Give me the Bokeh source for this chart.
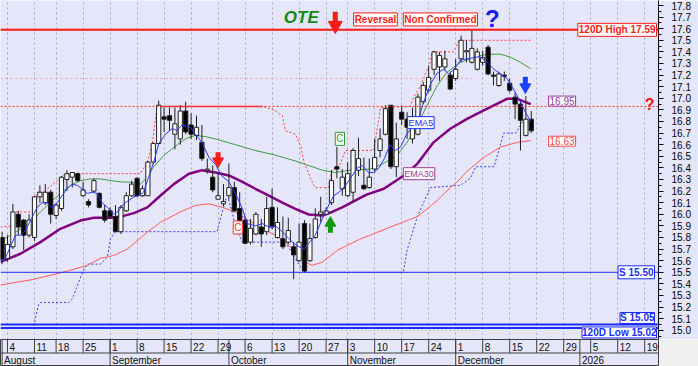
from bokeh.plotting import figure
from bokeh.models import (Range1d, LinearAxis, SingleIntervalTicker, PrintfTickFormatter, FixedTicker,
                          Grid, Label, ColumnDataSource, Span)
from bokeh.layouts import column
from bokeh.embed import file_html
from bokeh.resources import INLINE
from bokeh.core.properties import value

# ---------------- data (x = trading-day index, 0 = Mon 4 Aug 2025) ----------------
day_idx = list(range(-1, 98))
opens = [15.80, 15.62, 15.72, 16.00, 15.95, 15.82, 15.80, 16.15, 16.10, 16.19,
         15.99, 16.05, 16.30, 16.32, 16.35, 16.16, 16.11, 16.20, 16.18, 16.03,
         16.03, 15.98, 15.85, 16.03, 16.16, 16.31, 16.16, 16.16, 16.45, 16.61,
         16.84, 16.85, 16.69, 16.65, 16.89, 16.77, 16.68, 16.62, 16.38, 16.32,
         16.13, 16.09, 16.16, 16.23, 16.05, 15.95, 15.76, 15.83, 15.89, 15.85,
         16.06, 15.80, 15.79, 15.76, 15.72, 15.60, 15.92, 15.60, 15.80, 16.00,
         16.00, 16.10, 16.41, 16.22, 16.16, 16.19, 16.38, 16.25, 16.23, 16.39,
         16.55, 16.69, 16.94, 16.41, 16.88, 16.82, 16.65, 16.69, 16.97, 17.07,
         17.25, 17.27, 17.27, 17.20, 17.17, 17.34, 17.40, 17.31, 17.25, 17.31,
         17.44, 17.20, 17.11, 17.20, 17.13, 17.01, 16.95, 16.68, 16.82]
highs = [15.85, 15.82, 16.09, 16.03, 15.96, 16.00, 16.16, 16.25, 16.26, 16.21,
         16.10, 16.33, 16.38, 16.36, 16.36, 16.28, 16.13, 16.31, 16.19, 16.08,
         16.06, 16.08, 16.08, 16.19, 16.29, 16.32, 16.25, 16.46, 16.62, 16.98,
         16.92, 16.92, 16.92, 16.94, 16.97, 16.87, 16.85, 16.77, 16.48, 16.42,
         16.36, 16.26, 16.44, 16.28, 16.19, 15.98, 15.96, 16.02, 15.96, 16.15,
         16.22, 16.06, 15.98, 15.97, 15.76, 15.92, 15.95, 15.92, 16.05, 16.15,
         16.06, 16.38, 16.58, 16.39, 16.45, 16.57, 16.66, 16.49, 16.48, 16.65,
         16.74, 16.94, 16.94, 16.79, 16.94, 16.88, 16.92, 17.04, 17.14, 17.28,
         17.41, 17.40, 17.41, 17.23, 17.34, 17.54, 17.50, 17.59, 17.43, 17.41,
         17.46, 17.23, 17.23, 17.23, 17.17, 17.05, 16.98, 17.02, 16.89]
lows = [15.57, 15.59, 15.70, 15.82, 15.69, 15.80, 15.77, 16.10, 16.08, 15.92,
        15.96, 16.03, 16.20, 16.23, 16.28, 16.15, 16.06, 16.19, 16.05, 15.93,
        15.96, 15.85, 15.83, 16.02, 16.15, 16.15, 16.15, 16.16, 16.43, 16.61,
        16.71, 16.72, 16.56, 16.60, 16.69, 16.65, 16.64, 16.46, 16.35, 16.19,
        16.13, 16.07, 16.13, 16.02, 15.86, 15.75, 15.74, 15.82, 15.72, 15.82,
        15.87, 15.79, 15.70, 15.74, 15.44, 15.59, 15.50, 15.59, 15.79, 15.93,
        15.99, 16.08, 16.31, 16.16, 16.15, 16.11, 16.33, 16.21, 16.22, 16.36,
        16.49, 16.68, 16.39, 16.32, 16.77, 16.65, 16.61, 16.68, 16.95, 17.05,
        17.20, 17.15, 17.24, 17.07, 17.15, 17.31, 17.31, 17.30, 17.24, 17.28,
        17.20, 17.11, 17.10, 17.15, 17.05, 16.82, 16.55, 16.67, 16.70]
closes = [15.61, 15.74, 16.02, 15.89, 15.82, 15.95, 16.15, 16.19, 16.19, 16.00,
          16.08, 16.32, 16.35, 16.36, 16.29, 16.21, 16.08, 16.29, 16.06, 15.95,
          15.98, 15.85, 16.06, 16.16, 16.26, 16.16, 16.22, 16.45, 16.61, 16.94,
          16.82, 16.81, 16.78, 16.89, 16.71, 16.69, 16.75, 16.48, 16.39, 16.21,
          16.16, 16.11, 16.23, 16.03, 15.88, 15.75, 15.88, 16.00, 15.83, 16.05,
          15.89, 15.93, 15.72, 15.86, 15.65, 15.76, 15.51, 15.79, 15.96, 16.02,
          16.03, 16.29, 16.39, 16.32, 16.35, 16.55, 16.48, 16.22, 16.32, 16.49,
          16.65, 16.91, 16.41, 16.65, 16.82, 16.75, 16.77, 17.01, 17.11, 17.18,
          17.40, 17.37, 17.34, 17.08, 17.25, 17.50, 17.41, 17.43, 17.40, 17.35,
          17.21, 17.19, 17.21, 17.19, 17.07, 16.95, 16.81, 16.82, 16.72]

ema5_x = [-1.3, -0.4, 0.6, 1.5, 2.4, 3.3, 4.3, 5.5, 6.4, 7.3, 8.3, 9.2, 10.1, 11.0, 12.0, 12.9,
          13.8, 14.8, 15.7, 16.6, 17.5, 18.5, 19.7, 20.6, 21.5, 22.5, 23.4, 24.3, 25.2, 26.2,
          27.1, 28.0, 29.3, 30.5, 31.4, 32.3, 33.9, 34.8, 36.0, 37.3, 38.5, 39.7, 41.0, 42.2,
          43.5, 44.4, 45.9, 47.2, 48.4, 49.6, 50.9, 52.1, 53.0, 54.0, 54.9, 55.8, 57.0, 58.3,
          59.5, 60.4, 61.4, 62.6, 63.8, 64.8, 65.8, 66.8, 67.8, 68.8, 69.8, 70.8, 71.8, 72.8,
          73.8, 74.9, 75.9, 77.1, 78.3, 79.6, 80.8, 81.7, 82.7, 83.9, 85.1, 86.3, 87.5, 88.8,
          90.1, 91.3, 92.5, 93.8, 95.0, 95.9, 96.9]
ema5_y = [15.59, 15.62, 15.73, 15.82, 15.82, 15.86, 15.95, 16.06, 16.10, 16.10, 16.05, 16.10,
          16.16, 16.22, 16.26, 16.25, 16.22, 16.18, 16.19, 16.18, 16.10, 16.06, 16.00, 16.03,
          16.09, 16.12, 16.15, 16.16, 16.19, 16.33, 16.45, 16.61, 16.69, 16.74, 16.72, 16.77,
          16.75, 16.69, 16.62, 16.49, 16.43, 16.33, 16.28, 16.18, 16.05, 15.92, 15.90, 15.92,
          15.89, 15.90, 15.85, 15.79, 15.75, 15.72, 15.70, 15.75, 15.82, 15.96, 16.08, 16.16,
          16.19, 16.25, 16.33, 16.40, 16.42, 16.36, 16.36, 16.40, 16.48, 16.60, 16.55, 16.58,
          16.68, 16.75, 16.79, 16.97, 17.12, 17.22, 17.25, 17.21, 17.25, 17.33, 17.34, 17.35,
          17.36, 17.31, 17.25, 17.21, 17.17, 17.07, 16.97, 16.88, 16.80]

ema20_x = [-1.3, 0.6, 2.4, 4.3, 6.1, 8.0, 9.8, 11.7, 13.5, 15.4, 17.2, 19.1, 20.9, 22.8, 24.6,
           25.9, 27.1, 29.0, 30.5, 32.0, 33.4, 34.8, 36.6, 38.5, 42.2, 45.9, 49.6, 53.3, 55.8,
           58.3, 60.7, 63.5, 67.2, 69.7, 72.2, 74.0, 75.9, 77.7, 79.6, 81.4, 83.9, 86.4, 88.8,
           91.3, 93.1, 95.0, 96.9]
ema20_y = [15.77, 15.82, 15.875, 15.93, 16.02, 16.105, 16.18, 16.25, 16.29, 16.305, 16.305,
           16.29, 16.28, 16.277, 16.26, 16.32, 16.41, 16.51, 16.564, 16.62, 16.66, 16.68, 16.67,
           16.65, 16.60, 16.55, 16.51, 16.46, 16.42, 16.38, 16.36, 16.38, 16.39, 16.44, 16.51,
           16.62, 16.77, 16.94, 17.11, 17.225, 17.31, 17.355, 17.38, 17.38, 17.355, 17.31, 17.255]

ema30_x = [-1.3, 2.4, 6.1, 9.8, 13.5, 16.0, 19.1, 21.0, 23.4, 25.9, 28.3, 30.8, 33.6, 36.0, 38.5,
           41.0, 43.5, 45.9, 48.4, 50.9, 53.3, 55.8, 58.3, 60.1, 62.0, 64.0, 66.5, 69.7, 73.4,
           75.9, 78.9, 82.0, 85.1, 88.2, 91.3, 92.5, 94.4, 96.9]
ema30_y = [15.59, 15.66, 15.76, 15.875, 15.946, 15.97, 15.97, 15.98, 16.01, 16.06, 16.16, 16.26,
           16.35, 16.38, 16.36, 16.335, 16.28, 16.22, 16.16, 16.10, 16.047, 15.998, 15.99, 16.02,
           16.06, 16.11, 16.17, 16.22, 16.335, 16.435, 16.62, 16.737, 16.823, 16.895, 16.966,
           16.995, 16.995, 16.95]

ema100_x = [-1.3, 4.9, 11.1, 14.8, 17.2, 19.7, 22.2, 25.9, 28.3, 32.0, 34.8, 37.3, 39.8, 42.2,
            44.7, 47.2, 49.6, 51.5, 53.3, 55.2, 56.4, 58.3, 61.1, 65.0, 70.9, 75.9, 78.3, 79.6,
            82.0, 83.3, 85.1, 88.2, 91.3, 94.4, 96.9]
ema100_y = [15.39, 15.44, 15.51, 15.56, 15.62, 15.645, 15.70, 15.846, 15.93, 16.02, 16.076,
            16.09, 16.06, 16.02, 15.947, 15.875, 15.82, 15.76, 15.673, 15.587, 15.56, 15.587,
            15.69, 15.78, 15.89, 15.98, 16.07, 16.12, 16.23, 16.28, 16.37, 16.49, 16.58, 16.62,
            16.636]

chan_hi_x = [-1.3, 0.9, 1.2, 4.6, 5.5, 6.7, 9.2, 10.7, 24.6, 25.9, 26.8, 27.7, 47.2, 49.3, 50.9,
             51.5, 53.3, 54.3, 54.9, 56.4, 57.0, 59.4, 60.1, 61.4, 62.6, 67.8, 69.1, 74.6, 75.2,
             76.5, 78.3, 78.6, 82.6, 83.6, 96.9]
chan_hi_y = [15.89, 15.90, 16.02, 16.02, 16.19, 16.19, 16.29, 16.35, 16.35, 16.45, 16.60, 16.93,
             16.93, 16.90, 16.85, 16.72, 16.69, 16.59, 16.45, 16.28, 16.23, 16.23, 16.38, 16.41,
             16.55, 16.55, 16.92, 16.93, 17.01, 17.11, 17.31, 17.40, 17.40, 17.50, 17.50]

chan_lo_x = [4.87, 5.74, 6.1, 11.35, 12.0, 13.8, 14.76, 17.2, 18.5, 19.07, 20.0, 38.8, 40.4, 40.9,
             41.7, 42.2, 43.5, 51.5, 53.0, 54.9, 73.3, 74.0, 75.9, 78.3, 83.9, 85.7, 86.7, 90.1,
             91.9, 94.1, 95.3, 96.9]
chan_lo_y = [15.04, 15.22, 15.24, 15.24, 15.27, 15.49, 15.57, 15.57, 15.63, 15.79, 15.85, 15.85,
             16.13, 16.13, 16.00, 15.90, 15.76, 15.76, 15.64, 15.50, 15.50, 15.69, 15.98, 16.23,
             16.25, 16.31, 16.41, 16.41, 16.70, 16.70, 16.79, 16.82]

floor_x = [49.3, 87.1]
floor_level = 15.00
high_120d = 17.59
low_120d = 15.02
support_1 = 15.50
support_2 = 15.05
resist_q = 16.93
resist_seg_x = [27.8, 47.2]
pink_x = [-1.3, 86.0]
pink_level = 17.17
last_close = 16.72
ema30_last = 16.95
ema100_last = 16.63

# signal arrows: x, tail, neck, head-centre, marker, size, colour
arrows = [
    (60.7, 17.745, 17.655, 17.628, "inverted_triangle", 14, "#ff1a1a"),
    (95.9, 17.185, 17.115, 17.097, "inverted_triangle", 11, "#1a40ff"),
    (39.0, 16.535, 16.475, 16.458, "inverted_triangle", 11, "#ff1a1a"),
    (59.8, 15.840, 15.905, 15.925, "triangle", 11, "#109a10"),
]

week_idx = [0, 5, 9, 14, 19, 24, 29, 34, 39, 44, 49, 54, 59, 63, 68, 73, 78, 83, 88, 93, 98,
            103, 108, 113, 118]
week_lbl = ["4", "11", "18", "25", "1", "8", "15", "22", "29", "6", "13", "20", "27", "3", "10",
            "17", "24", "1", "8", "15", "22", "29", "5", "12", "19"]
month_idx = [-1, 19, 41, 63, 83, 106]
month_lbl = ["August", "September", "October", "November", "December", "2026"]

# ---------------- styling ----------------
BG = "#e6e6fa"
FONT = "Liberation Sans"
RED = "#ff1a1a"
BLUE = "#1a2cff"
PURPLE = "#800080"

XR = Range1d(-1.296, 120.56)
p = figure(width=698, height=339, x_range=XR, y_range=Range1d(14.9206, 17.843),
           toolbar_location=None, output_backend="svg", x_axis_location=None, y_axis_location=None,
           min_border_left=0, min_border_top=0, min_border_bottom=0, min_border_right=40,
           background_fill_color=BG, border_fill_color=BG, outline_line_color=None)
p.grid.visible = False

p.add_layout(Grid(dimension=0, ticker=FixedTicker(ticks=week_idx), grid_line_color="#a8a8b8",
                  grid_line_dash="2 3", grid_line_width=1))

ax = LinearAxis(ticker=SingleIntervalTicker(interval=0.1, num_minor_ticks=2),
                formatter=PrintfTickFormatter(format="%.1f"))
ax.axis_line_color = "black"
ax.major_tick_out = 5
ax.major_tick_in = 0
ax.minor_tick_out = 3
ax.minor_tick_in = 0
ax.major_tick_line_color = "black"
ax.minor_tick_line_color = "black"
ax.major_label_standoff = 8
ax.major_label_text_font = FONT
ax.major_label_text_font_size = "10px"
ax.major_label_text_color = "black"
p.add_layout(ax, "right")

# horizontal levels
p.line(x=pink_x, y=[pink_level, pink_level], line_color="#ff9a9a", line_dash="2 3", line_width=1)
p.line(x=floor_x, y=[floor_level, floor_level], line_color="#9c9cb4", line_dash="1 3", line_width=1)
p.add_layout(Span(location=resist_q, dimension="width", line_color="#ff3030", line_dash="2 2", line_width=1))
p.line(x=resist_seg_x, y=[resist_q, resist_q], line_color="#ff3030", line_width=1.5)
p.add_layout(Span(location=high_120d, dimension="width", line_color=RED, line_width=2))
p.add_layout(Span(location=support_1, dimension="width", line_color=BLUE, line_width=1))
p.add_layout(Span(location=support_2, dimension="width", line_color=BLUE, line_width=2))
p.add_layout(Span(location=low_120d, dimension="width", line_color=BLUE, line_width=2))

# channels and averages
p.line(chan_hi_x, chan_hi_y, line_color="#ff4040", line_dash="2 2", line_width=1)
p.line(chan_lo_x, chan_lo_y, line_color="#3a3aff", line_dash="2 2", line_width=1)
p.line(ema100_x, ema100_y, line_color="#ff5a5a", line_width=1)
p.line(ema20_x, ema20_y, line_color="#3c9a3c", line_width=1)
p.line(ema30_x, ema30_y, line_color=PURPLE, line_width=2.5)

# candles
src = ColumnDataSource(dict(
    x=day_idx, o=opens, h=highs, l=lows, c=closes,
    top=[max(a, b) for a, b in zip(opens, closes)],
    bot=[min(a, b) for a, b in zip(opens, closes)],
    fill=["white" if c >= o else "black" for o, c in zip(opens, closes)],
))
p.segment(x0="x", y0="l", x1="x", y1="h", source=src, line_color="#202020", line_width=1)
p.vbar(x="x", width=0.78, top="top", bottom="bot", source=src, fill_color="fill", line_color="#202020", line_width=1)

p.line(ema5_x, ema5_y, line_color="#2838ff", line_width=1)

# arrows
for xs, y0, y1, yh, mk, sz, col in arrows:
    p.segment(x0=[xs], y0=[y0], x1=[xs], y1=[y1], line_color=col, line_width=5)
    p.scatter(x=[xs], y=[yh], marker=mk, size=sz, fill_color=col, line_color=col)


def box(x, y, text, color, size="10px", style="bold", align="left", baseline="middle",
        xo=0, yo=0, fill="white", pad=1):
    p.add_layout(Label(x=x, y=y, text=text, x_offset=xo, y_offset=yo, text_color=color,
                       text_font=FONT, text_font_size=size, text_font_style=style,
                       text_align=align, text_baseline=baseline,
                       background_fill_color=fill, border_line_color=color,
                       border_line_width=1, padding=pad))


box(XR.end, high_120d, "120D High 17.59", RED, align="right", xo=-2)
box(XR.end, support_1, "S 15.50", BLUE, align="right", xo=-4)
box(XR.end, support_2, "S 15.05", BLUE, align="right", baseline="bottom", xo=-4, yo=1, pad=0)
box(XR.end, low_120d, "120D Low 15.02", BLUE, align="right", baseline="top", xo=-2, yo=1, pad=0)
box(100.2, ema30_last, "16.95", "#9a3a9a", style="normal", yo=3)
box(100.2, ema100_last, "16.63", "#ff4a4a", style="normal")
box(74.1, 16.79, "EMA5", BLUE, size="9px", style="normal")
box(73.3, 16.35, "EMA30", "#9a3a9a", size="9px", style="normal")
box(41.8, 15.886, "C", "#ff3030", style="normal")
box(60.7, 16.65, "C", "#2a9a2a", style="normal")
box(64.1, 17.68, "Reversal", RED)
box(73.3, 17.68, "Non Confirmed", RED)

p.add_layout(Label(x=54.4, y=17.70, text="OTE", text_color="#128a12", text_font=FONT,
                   text_font_size="17px", text_font_style="bold italic",
                   text_align="center", text_baseline="middle"))
p.add_layout(Label(x=89.8, y=17.69, text="?", text_color="#1a1aee", text_font=FONT,
                   text_font_size="24px", text_font_style="bold",
                   text_align="center", text_baseline="middle"))
p.add_layout(Label(x=118.9, y=resist_q, text="?", text_color="#ff1010", text_font=FONT,
                   text_font_size="16px", text_font_style="bold",
                   text_align="center", text_baseline="middle", y_offset=2))
p.add_layout(Label(x=121.3, y=last_close, text="16.72000", text_color="#ff2020", text_font=FONT,
                   text_font_size="8.5px", text_align="left", text_baseline="middle", y_offset=2,
                   background_fill_color="black", padding=1))

# ---------------- date axis ----------------
q = figure(width=698, height=27, x_range=XR, y_range=Range1d(0, 2),
           toolbar_location=None, output_backend="svg", x_axis_location=None, y_axis_location=None,
           min_border_left=0, min_border_top=0, min_border_bottom=0, min_border_right=40,
           background_fill_color=BG, border_fill_color="#f0f0f0", outline_line_color="#404040")
q.grid.visible = False
q.add_layout(Span(location=1, dimension="width", line_color="#404040", line_width=1))
q.segment(x0=week_idx, y0=[1] * len(week_idx), x1=week_idx, y1=[2] * len(week_idx),
          line_color="#404040", line_width=1)
q.segment(x0=month_idx, y0=[0] * len(month_idx), x1=month_idx, y1=[2] * len(month_idx),
          line_color="#404040", line_width=1)
q.text(x=week_idx, y=[1.45] * len(week_idx), text=week_lbl, x_offset=2, text_align="left",
       text_baseline="middle", text_font=value(FONT), text_font_size="10px", text_color="#111111")
q.text(x=month_idx, y=[0.45] * len(month_idx), text=month_lbl, x_offset=2, text_align="left",
       text_baseline="middle", text_font=value(FONT), text_font_size="10px", text_color="#111111")

layout = column(p, q, spacing=0)
open("out.html", "w").write(file_html(layout, INLINE))
